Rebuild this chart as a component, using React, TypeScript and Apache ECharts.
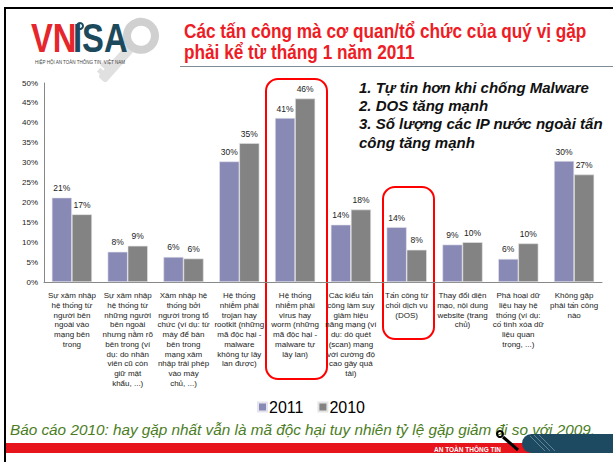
import React, { useEffect, useRef } from "react";
import * as echarts from "echarts";

const categories = [
  "Sự xâm nhập\nhệ thống từ\nngười bên\nngoài vào\nmạng bên\ntrong",
  "Sự xâm nhập\nhệ thống từ\nnhững người\nbên ngoài\nnhưng nằm rõ\nbên trong (ví\ndụ: do nhân\nviên cũ còn\ngiữ mật\nkhẩu, ...)",
  "Xâm nhập hệ\nthống bởi\nngười trong tổ\nchức (ví dụ: từ\nmáy để bàn\nbên trong\nmạng xâm\nnhập trái phép\nvào máy\nchủ, ...)",
  "Hệ thống\nnhiễm phải\ntrojan hay\nrootkit (những\nmã độc hại -\nmalware\nkhông tự lây\nlan được)",
  "Hệ thống\nnhiễm phải\nvirus hay\nworm (những\nmã độc hại -\nmalware tự\nlây lan)",
  "Các kiểu tấn\ncông làm suy\ngiảm hiệu\nnăng mạng (ví\ndụ: dò quét\n(scan) mạng\nvới cường độ\ncao gây quá\ntải)",
  "Tấn công từ\nchối dịch vụ\n(DOS)",
  "Thay đổi diện\nmạo, nội dung\nwebsite (trang\nchủ)",
  "Phá hoại dữ\nliệu hay hệ\nthống (ví dụ:\ncố tình xóa dữ\nliệu quan\ntrọng, ...)",
  "Không gặp\nphải tấn công\nnào",
];

const values2011 = [21.2, 7.6, 6.3, 30.3, 41.2, 14.4, 13.8, 9.4, 5.8, 30.4];
const values2010 = [17.0, 9.1, 5.9, 34.9, 46.1, 18.2, 8.1, 10.0, 9.7, 27.0];

const seriesNames = ["2011", "2010"];

const titleLines = [
  "Các tấn công mà cơ quan/tổ chức của quý vị gặp",
  "phải kể từ tháng 1 năm 2011",
];

const noteLines = [
  "1. Tự tin hơn khi chống Malware",
  "2. DOS tăng mạnh",
  "3. Số lượng các IP nước ngoài tấn",
  "công tăng mạnh",
];

const footerText =
  "Báo cáo 2010: hay gặp nhất vẫn là mã độc hại tuy nhiên tỷ lệ gặp giảm đi so với 2009.";

const FONT = "Liberation Sans, Arial, sans-serif";

export default function App() {
  const ref = useRef<HTMLDivElement>(null);

  useEffect(() => {
    if (!ref.current) return;
    const chart = echarts.init(ref.current, null, { renderer: "svg" });

    const titleFont = "bold 21px 'Liberation Sans', Arial";

    const graphics: any[] = [
      // slide frame
      { type: "rect", shape: { x: 4, y: 7, width: 609, height: 2 }, style: { fill: "#000" } },
      { type: "rect", shape: { x: 4, y: 7, width: 2, height: 455 }, style: { fill: "#000" } },
      // key graphic behind logo
      {
        type: "group",
        x: 131,
        y: 47,
        rotation: -2.3,
        children: [
          { type: "rect", shape: { x: 0, y: -5, width: 44, height: 10, r: 3 }, style: { fill: "#e0e0e0" } },
          { type: "rect", shape: { x: 28, y: 4, width: 6, height: 7 }, style: { fill: "#e0e0e0" } },
          { type: "rect", shape: { x: 36, y: 4, width: 5, height: 5 }, style: { fill: "#e0e0e0" } },
          { type: "ring", shape: { cx: -15, cy: 0, r: 18, r0: 10 }, style: { fill: "#d0d0d0" } },
        ],
      },
      // logo text
      {
        type: "text",
        x: 31,
        y: 58,
        scaleX: 0.82,
        style: {
          text: "VN",
          fill: "#e5262c",
          font: "bold 40px 'Liberation Sans', Arial",
          textVerticalAlign: "bottom",
        },
      },
      {
        type: "text",
        x: 73,
        y: 58,
        scaleX: 0.82,
        style: {
          text: "ISA",
          fill: "#1c4a5c",
          font: "bold 40px 'Liberation Sans', Arial",
          textVerticalAlign: "bottom",
        },
      },
      { type: "ring", shape: { cx: 80, cy: 26, r: 4, r0: 2 }, style: { fill: "#1c4a5c" } },
      {
        type: "text",
        x: 35,
        y: 62,
        style: {
          text: "HIỆP HỘI AN TOÀN THÔNG TIN  VIỆT NAM",
          fill: "#444",
          font: "4.5px 'Liberation Sans', Arial",
          textVerticalAlign: "middle",
        },
      },
      // title
      {
        type: "text",
        x: 184,
        y: 31,
        scaleX: 0.82,
        style: {
          text: titleLines[0],
          fill: "#ee1c25",
          font: titleFont,
          textVerticalAlign: "middle",
        },
      },
      {
        type: "text",
        x: 184,
        y: 52,
        scaleX: 0.82,
        style: {
          text: titleLines[1],
          fill: "#ee1c25",
          font: titleFont,
          textVerticalAlign: "middle",
        },
      },
      { type: "rect", shape: { x: 180, y: 66, width: 433, height: 1 }, style: { fill: "#7d8c96" } },
      // notes
      ...noteLines.map((t, i) => ({
        type: "text",
        x: 359,
        y: 87 + i * 18.4,
        style: {
          text: t,
          fill: "#111",
          font: "italic bold 15px 'Liberation Sans', Arial",
          textVerticalAlign: "middle",
        },
      })),
      // red highlight boxes
      {
        type: "rect",
        shape: { x: 266, y: 79, width: 61, height: 300, r: 12 },
        style: { fill: "none", stroke: "#ff0000", lineWidth: 2 },
      },
      {
        type: "rect",
        shape: { x: 383, y: 187, width: 51, height: 152, r: 12 },
        style: { fill: "none", stroke: "#ff0000", lineWidth: 2 },
      },
      // footer note
      {
        type: "text",
        x: 10,
        y: 429,
        style: {
          text: footerText,
          fill: "#4b7d1e",
          font: "italic 15.3px 'Liberation Sans', Arial",
          textVerticalAlign: "middle",
        },
      },
      // bottom band
      { type: "rect", shape: { x: 6, y: 443, width: 607, height: 10 }, style: { fill: "#e8141c" } },
      { type: "rect", shape: { x: 522, y: 434, width: 100, height: 19, r: [10, 0, 0, 10] }, style: { fill: "#1d4a60" } },
      { type: "line", shape: { x1: 530, y1: 436, x2: 545, y2: 451 }, style: { stroke: "#5f8496", lineWidth: 1 } },
      { type: "line", shape: { x1: 534, y1: 435, x2: 550, y2: 451 }, style: { stroke: "#5f8496", lineWidth: 1 } },
      { type: "line", shape: { x1: 539, y1: 435, x2: 555, y2: 451 }, style: { stroke: "#5f8496", lineWidth: 1 } },
      {
        type: "text",
        x: 434,
        y: 449,
        style: {
          text: "AN TOÀN THÔNG TIN",
          fill: "#fff",
          font: "bold 6.5px 'Liberation Sans', Arial",
          textVerticalAlign: "middle",
        },
      },
      { type: "line", shape: { x1: 503, y1: 437, x2: 518, y2: 450 }, style: { stroke: "#000", lineWidth: 3 } },
      { type: "ring", shape: { cx: 500, cy: 434, r: 4, r0: 2 }, style: { fill: "#000" } },
    ];

    chart.setOption({
      animation: false,
      textStyle: { fontFamily: FONT },
      grid: { left: 44, right: 11, top: 83, bottom: 180, containLabel: false },
      legend: {
        data: seriesNames,
        left: 257,
        top: 399,
        itemWidth: 9,
        itemHeight: 9,
        itemGap: 14,
        icon: "rect",
        padding: 0,
        textStyle: { fontSize: 16, color: "#000", padding: [0, 0, 0, -3] },
      },
      xAxis: {
        type: "category",
        data: categories,
        axisLine: { lineStyle: { color: "#888" } },
        axisTick: { show: false },
        axisLabel: {
          interval: 0,
          fontSize: 8,
          lineHeight: 9.7,
          color: "#222",
          margin: 9,
          verticalAlign: "top",
        },
      },
      yAxis: {
        type: "value",
        min: 0,
        max: 50,
        interval: 5,
        axisLine: { show: true, lineStyle: { color: "#888" } },
        axisTick: { show: false },
        splitLine: { show: false },
        axisLabel: { formatter: "{value}%", fontSize: 8, color: "#222", margin: 6 },
      },
      series: [
        {
          name: seriesNames[0],
          type: "bar",
          data: values2011,
          barGap: "0%",
          barCategoryGap: "28%",
          itemStyle: { color: "#8989b5", borderColor: "#e4e4ee", borderWidth: 0.6 },
          label: {
            show: true,
            position: "top",
            fontSize: 8.5,
            color: "#222",
            formatter: (p: any) => Math.round(p.value) + "%",
          },
        },
        {
          name: seriesNames[1],
          type: "bar",
          data: values2010,
          itemStyle: { color: "#838383", borderColor: "#e4e4e4", borderWidth: 0.6 },
          label: {
            show: true,
            position: "top",
            fontSize: 8.5,
            color: "#222",
            formatter: (p: any) => Math.round(p.value) + "%",
          },
        },
      ],
      graphic: graphics,
    });

    return () => chart.dispose();
  }, []);

  return (
    <div
      ref={ref}
      style={{ position: "absolute", left: 0, top: 0, width: 613, height: 462, background: "#fff" }}
    />
  );
}
